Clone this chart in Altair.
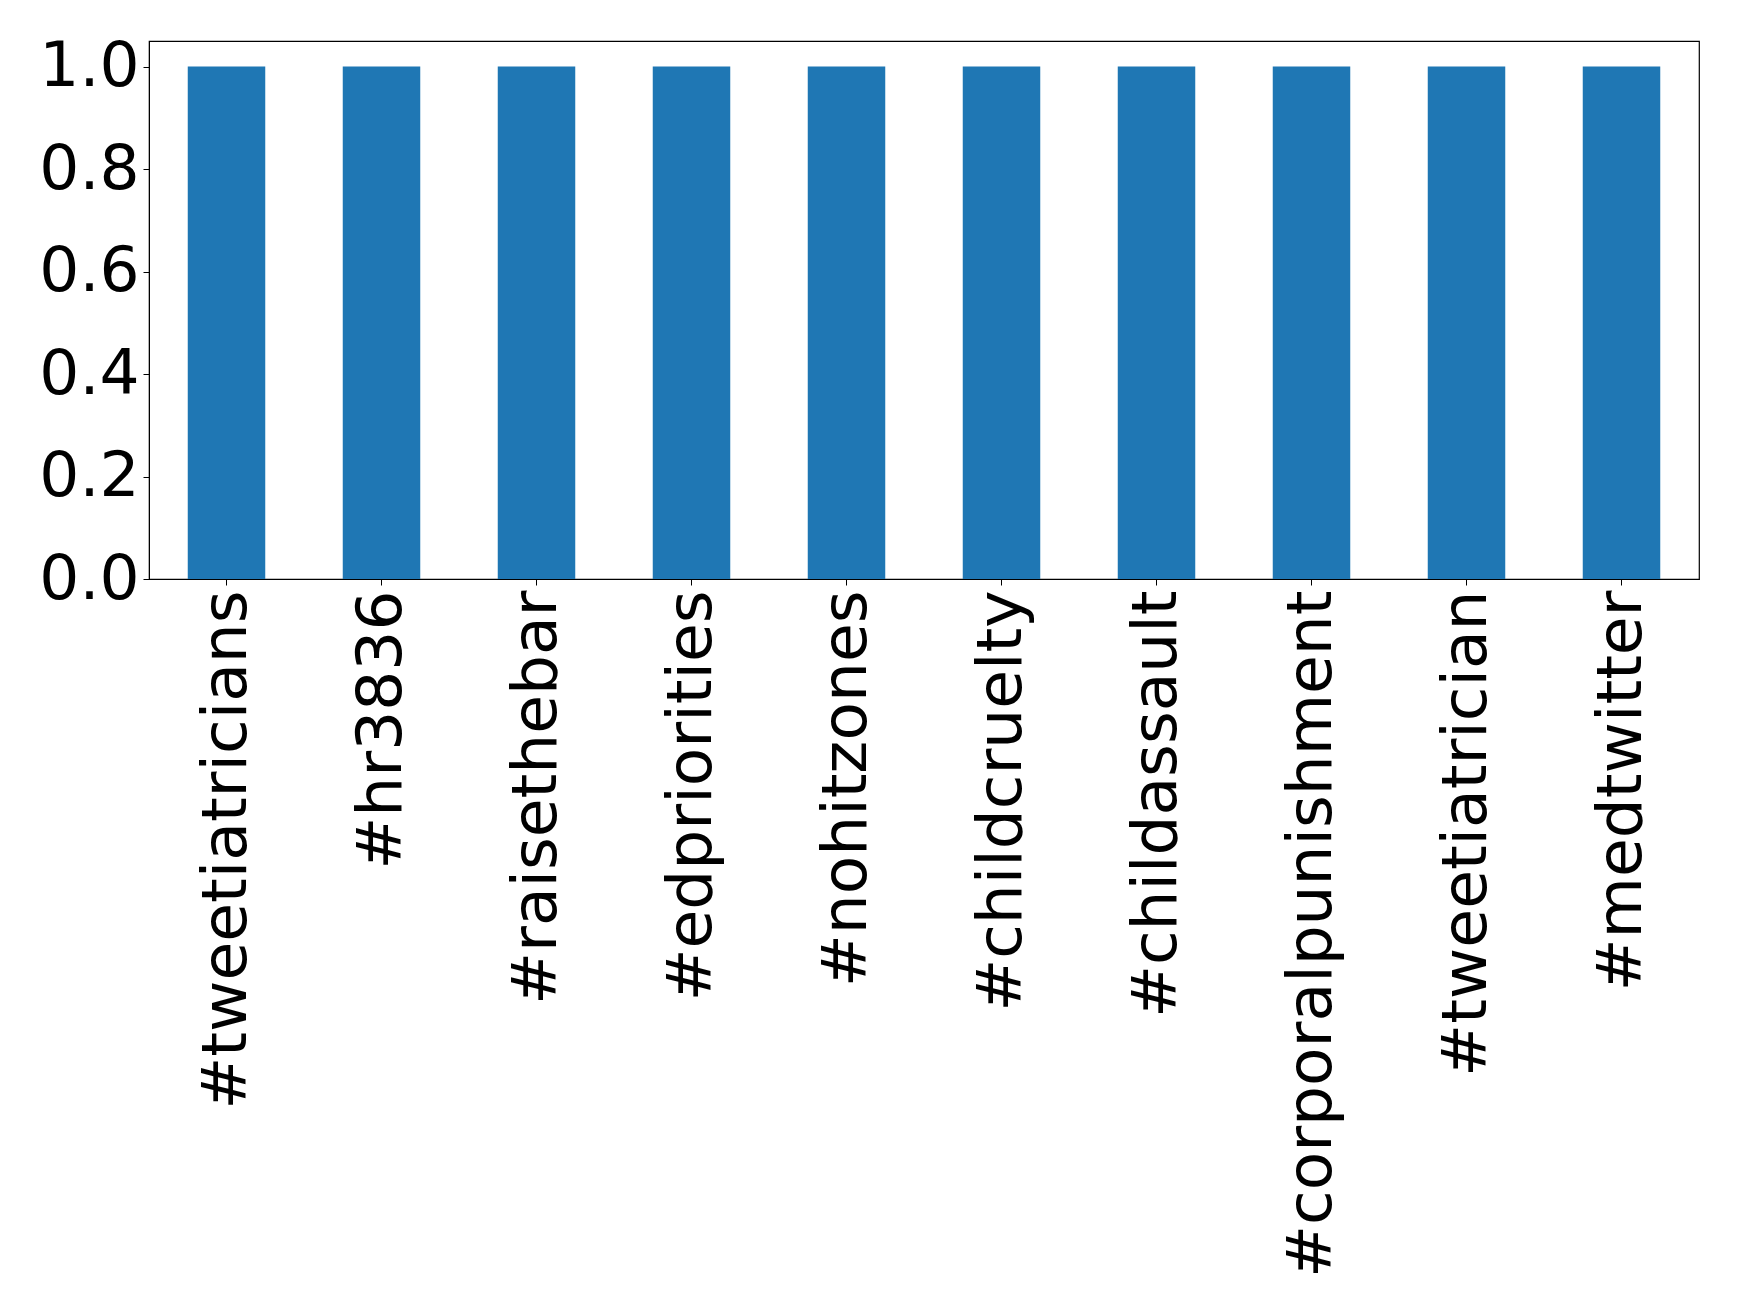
import altair as alt
import pandas as pd

categories = ["#tweetiatricians", "#hr3836", "#raisethebar", "#edpriorities", "#nohitzones",
              "#childcruelty", "#childassault", "#corporalpunishment", "#tweetiatrician", "#medtwitter"]
values = [1, 1, 1, 1, 1, 1, 1, 1, 1, 1]

df = pd.DataFrame({"tag": categories, "value": values})

chart = alt.Chart(df).mark_bar(color="#1f77b4").encode(
    x=alt.X("tag:N", sort=categories, title=None,
            scale=alt.Scale(paddingInner=0.5, paddingOuter=0.25),
            axis=alt.Axis(labelAngle=270, labelAlign="right", labelBaseline="middle",
                          labelFontSize=63, labelFont="DejaVu Sans", labelColor="black",
                          tickColor="black", tickSize=6, labelPadding=5,
                          domainColor="black", labelLimit=0)),
    y=alt.Y("value:Q", title=None,
            scale=alt.Scale(domain=[0, 1.05], nice=False),
            axis=alt.Axis(values=[0, 0.2, 0.4, 0.6, 0.8, 1.0], format=".1f",
                          labelFontSize=63, labelFont="DejaVu Sans", labelColor="black",
                          tickColor="black", tickSize=6, labelPadding=4,
                          domainColor="black", grid=False)),
).properties(
    width=1550, height=538,
    autosize=alt.AutoSizeParams(type="none"),
    padding={"left": 141, "top": 33, "right": 30, "bottom": 700},
).configure(
    background="white",
    view=alt.ViewConfig(stroke="black", strokeWidth=1.2),
)

chart.save("out.html", embed_options={"renderer": "svg", "actions": False})
